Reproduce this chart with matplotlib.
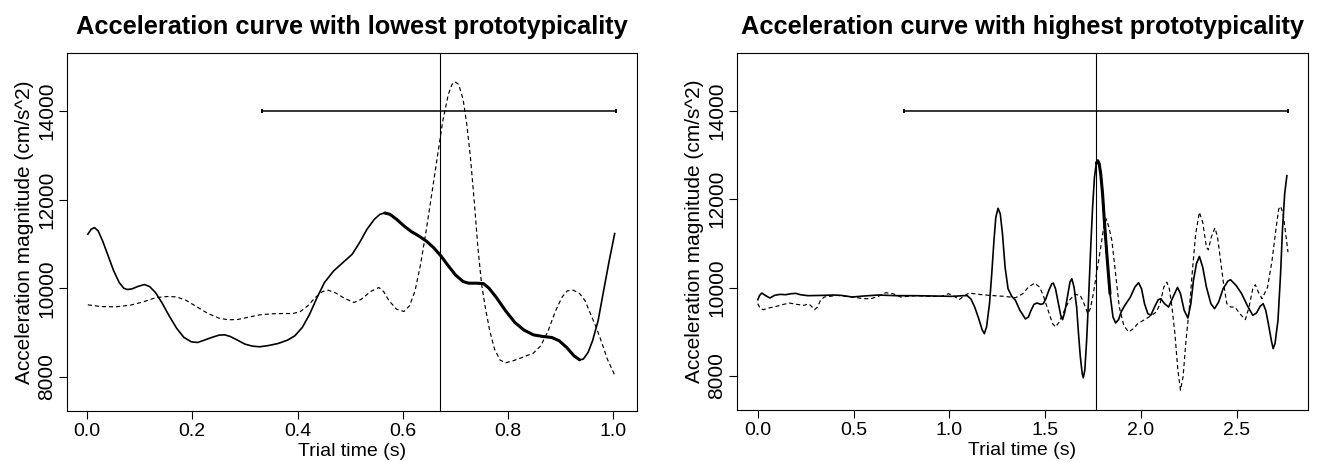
import numpy as np
import matplotlib
matplotlib.use("Agg")
import matplotlib.pyplot as plt

plt.rcParams['font.family'] = ['Liberation Sans', 'DejaVu Sans']

# lowest prototypicality trial: solid = this trial, dashed = reference curve
low_t = [0.0014, 0.0077, 0.0141, 0.0211, 0.0295, 0.0401, 0.0506, 0.0611, 0.0696, 0.0766,
         0.0857, 0.0963, 0.1089, 0.1188, 0.1300, 0.1420, 0.1560, 0.1701, 0.1841, 0.1982,
         0.2101, 0.2228, 0.2368, 0.2509, 0.2614, 0.2720, 0.2846, 0.3001, 0.3141, 0.3282,
         0.3457, 0.3633, 0.3809, 0.3949, 0.4090, 0.4230, 0.4371, 0.4512, 0.4687, 0.4863,
         0.5039, 0.5179, 0.5320, 0.5460, 0.5566, 0.5657, 0.5755, 0.5882, 0.6023, 0.6163,
         0.6304, 0.6444, 0.6585, 0.6725, 0.6866, 0.7006, 0.7147, 0.7252, 0.7393, 0.7533,
         0.7639, 0.7779, 0.7955, 0.8131, 0.8306, 0.8482, 0.8658, 0.8833, 0.8974, 0.9115,
         0.9255, 0.9361, 0.9431, 0.9522, 0.9607, 0.9712, 0.9817, 0.9923, 1.0028]
low_acc = [11218, 11331, 11368, 11293, 11068, 10729, 10391, 10128, 10000, 9970,
           9985, 10038, 10083, 10038, 9902, 9677, 9376, 9098, 8887, 8789,
           8774, 8827, 8887, 8940, 8947, 8910, 8835, 8737, 8692, 8677,
           8707, 8752, 8827, 8925, 9113, 9413, 9789, 10128, 10391, 10579,
           10767, 11030, 11331, 11556, 11669, 11699, 11669, 11556, 11406, 11278,
           11180, 11068, 10917, 10729, 10504, 10293, 10150, 10113, 10113, 10105,
           10000, 9789, 9489, 9225, 9053, 8947, 8910, 8887, 8812, 8662,
           8473, 8383, 8398, 8549, 8812, 9263, 9940, 10616, 11233]
low_ref_t = [0.0014, 0.0260, 0.0541, 0.0822, 0.1068, 0.1314, 0.1525, 0.1701, 0.1876, 0.2087,
             0.2298, 0.2509, 0.2684, 0.2860, 0.3071, 0.3282, 0.3493, 0.3703, 0.3914, 0.4055,
             0.4195, 0.4336, 0.4476, 0.4582, 0.4722, 0.4898, 0.5074, 0.5214, 0.5390, 0.5545,
             0.5636, 0.5741, 0.5882, 0.6023, 0.6128, 0.6233, 0.6339, 0.6444, 0.6550, 0.6655,
             0.6760, 0.6866, 0.6936, 0.6992, 0.7063, 0.7147, 0.7217, 0.7287, 0.7358, 0.7428,
             0.7498, 0.7569, 0.7653, 0.7744, 0.7850, 0.7955, 0.8096, 0.8271, 0.8482, 0.8623,
             0.8763, 0.8904, 0.9030, 0.9128, 0.9241, 0.9361, 0.9466, 0.9571, 0.9677, 0.9782,
             0.9888, 1.0028]
low_ref_acc = [9624, 9586, 9579, 9616, 9692, 9789, 9812, 9804, 9729, 9579,
               9428, 9323, 9286, 9293, 9346, 9398, 9421, 9428, 9428, 9474,
               9601, 9789, 9925, 9955, 9895, 9767, 9677, 9752, 9925, 10015,
               9925, 9714, 9526, 9474, 9601, 9940, 10541, 11293, 12120, 12947,
               13774, 14376, 14601, 14662, 14601, 14263, 13699, 12947, 11970, 10917,
               10090, 9564, 9038, 8624, 8376, 8316, 8361, 8436, 8534, 8699,
               9038, 9489, 9804, 9940, 9955, 9880, 9714, 9413, 9113, 8774,
               8398, 8037]
low_peak = 0.671
low_window = (0.333, 1.006)
low_bold = (0.565, 0.94)

# highest prototypicality trial
high_t = [0.0, 0.0097, 0.0213, 0.0387, 0.0639, 0.0871, 0.1161, 0.1451, 0.1741, 0.1993,
          0.2225, 0.2612, 0.3386, 0.3967, 0.4354, 0.4934, 0.5515, 0.6289, 0.7256, 0.8224,
          0.9191, 1.0159, 1.0739, 1.0933, 1.1126, 1.1320, 1.1513, 1.1707, 1.1823, 1.1939,
          1.2094, 1.2210, 1.2326, 1.2423, 1.2539, 1.2655, 1.2771, 1.2906, 1.3061, 1.3255,
          1.3448, 1.3680, 1.3971, 1.4125, 1.4261, 1.4415, 1.4570, 1.4764, 1.4899, 1.5035,
          1.5190, 1.5344, 1.5422, 1.5538, 1.5673, 1.5809, 1.5906, 1.6022, 1.6157, 1.6293,
          1.6390, 1.6505, 1.6641, 1.6738, 1.6834, 1.6931, 1.6989, 1.7067, 1.7163, 1.7260,
          1.7376, 1.7473, 1.7570, 1.7666, 1.7744, 1.7821, 1.7898, 1.7995, 1.8092, 1.8228,
          1.8382, 1.8537, 1.8673, 1.8827, 1.8963, 1.9156, 1.9447, 1.9679, 1.9872, 2.0027,
          2.0182, 2.0356, 2.0511, 2.0704, 2.0898, 2.1033, 2.1227, 2.1440, 2.1672, 2.1904,
          2.2059, 2.2252, 2.2446, 2.2601, 2.2736, 2.2891, 2.3046, 2.3220, 2.3413, 2.3646,
          2.3839, 2.4052, 2.4284, 2.4536, 2.4671, 2.4961, 2.5251, 2.5542, 2.5832, 2.6025,
          2.6219, 2.6374, 2.6509, 2.6645, 2.6799, 2.6896, 2.6993, 2.7148, 2.7283, 2.7380,
          2.7496, 2.7612]
high_acc = [9724, 9822, 9875, 9822, 9762, 9822, 9845, 9837, 9860, 9867,
            9837, 9815, 9822, 9830, 9822, 9785, 9807, 9830, 9815, 9815,
            9807, 9800, 9815, 9815, 9739, 9558, 9318, 9047, 8956, 9107,
            9634, 10311, 11064, 11590, 11794, 11666, 11214, 10461, 9973, 9800,
            9709, 9483, 9288, 9333, 9483, 9619, 9649, 9619, 9634, 9747,
            9935, 10085, 10100, 9973, 9672, 9370, 9272, 9446, 9785, 10123,
            10198, 10010, 9558, 8956, 8428, 8053, 7955, 8128, 8806, 9709,
            10914, 11817, 12494, 12811, 12871, 12796, 12570, 12118, 11478, 10688,
            9860, 9333, 9197, 9272, 9446, 9596, 9785, 10010, 10108, 9973,
            9634, 9408, 9370, 9558, 9724, 9747, 9634, 9558, 9785, 10003,
            9860, 9483, 9310, 9634, 10161, 10537, 10703, 10461, 10010, 9634,
            9521, 9672, 9973, 10146, 10176, 10048, 9860, 9596, 9370, 9423,
            9574, 9634, 9483, 9182, 8806, 8617, 8730, 9257, 10311, 11290,
            12118, 12532]
high_ref_t = [0.0, 0.0135, 0.0290, 0.0580, 0.0967, 0.1354, 0.1645, 0.2032, 0.2419, 0.2651,
              0.2806, 0.2960, 0.3115, 0.3289, 0.3483, 0.4160, 0.4934, 0.5515, 0.5902, 0.6289,
              0.6676, 0.7063, 0.7450, 0.8224, 0.8998, 0.9578, 0.9965, 1.0255, 1.0507, 1.0739,
              1.1029, 1.1513, 1.2094, 1.2867, 1.3448, 1.3835, 1.4125, 1.4454, 1.4706, 1.4899,
              1.5151, 1.5383, 1.5538, 1.5731, 1.5964, 1.6254, 1.6544, 1.6834, 1.7028, 1.7221,
              1.7357, 1.7512, 1.7705, 1.7898, 1.8053, 1.8189, 1.8324, 1.8479, 1.8673, 1.8866,
              1.9098, 1.9350, 1.9601, 1.9834, 2.0124, 2.0414, 2.0801, 2.0995, 2.1188, 2.1343,
              2.1478, 2.1614, 2.1769, 2.1924, 2.2059, 2.2195, 2.2349, 2.2543, 2.2698, 2.2853,
              2.3046, 2.3220, 2.3413, 2.3510, 2.3665, 2.3858, 2.3994, 2.4129, 2.4284, 2.4478,
              2.4671, 2.4903, 2.5155, 2.5445, 2.5639, 2.5832, 2.5967, 2.6122, 2.6316, 2.6606,
              2.6838, 2.7032, 2.7187, 2.7283, 2.7419, 2.7573, 2.7670]
high_ref_acc = [9634, 9521, 9498, 9536, 9574, 9619, 9649, 9619, 9596, 9634,
                9574, 9498, 9558, 9724, 9785, 9822, 9785, 9747, 9747, 9800,
                9882, 9860, 9785, 9815, 9800, 9800, 9860, 9800, 9724, 9800,
                9875, 9845, 9822, 9800, 9769, 9860, 10010, 10100, 10010, 9822,
                9483, 9182, 9107, 9220, 9446, 9709, 9845, 9822, 9634, 9408,
                9521, 9860, 10386, 10914, 11365, 11553, 11365, 11064, 10311, 9558,
                9144, 8994, 9069, 9182, 9257, 9333, 9446, 9634, 10010, 10123,
                9973, 9558, 8956, 8128, 7676, 7978, 8806, 9634, 10461, 11214,
                11704, 11478, 10914, 10853, 11139, 11350, 11139, 10688, 10161, 9634,
                9558, 9558, 9408, 9272, 9558, 9973, 10063, 9897, 9747, 10010,
                10612, 11290, 11779, 11839, 11666, 11139, 10800]
high_peak = 1.767
high_window = (0.764, 2.767)
high_bold = (1.76, 1.84)

panels = [
    ("Acceleration curve with lowest prototypicality", low_t, low_acc, low_ref_t, low_ref_acc,
     low_peak, low_window, low_bold, (-0.0388, 1.0445), [0.0, 0.2, 0.4, 0.6, 0.8, 1.0]),
    ("Acceleration curve with highest prototypicality", high_t, high_acc, high_ref_t, high_ref_acc,
     high_peak, high_window, high_bold, (-0.110, 2.870), [0.0, 0.5, 1.0, 1.5, 2.0, 2.5]),
]

fig = plt.figure(figsize=(13.2, 4.62), dpi=100)
rects = [[0.0505, 0.1104, 0.4318, 0.7742], [0.5581, 0.1126, 0.4326, 0.7721]]

for rect, (title, t, acc, rt, racc, peak, win, bold, xlim, xt) in zip(rects, panels):
    ax = fig.add_axes(rect)
    t = np.array(t)
    acc = np.array(acc)
    ax.plot(rt, racc, color='black', lw=0.85, ls=(0, (3.5, 2.5)))
    ax.plot(t, acc, color='black', lw=1.2, solid_joinstyle='round')
    m = (t >= bold[0]) & (t <= bold[1])
    ax.plot(t[m], acc[m], color='black', lw=2.2, solid_joinstyle='round', solid_capstyle='round')
    ax.axvline(peak, color='black', lw=0.8)
    ax.plot(win, [14000, 14000], color='black', lw=1.1)
    ax.plot(win, [14000, 14000], ls='none', marker='|', ms=3.5, mew=1.4, color='black')

    ax.set_xlim(*xlim)
    ax.set_ylim(7227, 15304)
    ax.set_xticks(xt)
    ax.set_xticklabels([f"{v:.1f}" for v in xt])
    ax.set_yticks([8000, 10000, 12000, 14000])
    ax.set_yticklabels(['8000', '10000', '12000', '14000'], rotation=90, va='center')
    ax.tick_params(direction='out', length=5.5, width=0.8, pad=2)
    ax.tick_params(axis='x', labelsize=14, pad=3)
    ax.tick_params(axis='y', labelsize=15)
    for s in ax.spines.values():
        s.set_linewidth(0.8)
    ax.set_xlabel("Trial time (s)", fontsize=14, labelpad=2)
    ax.set_ylabel("Acceleration magnitude (cm/s^2)", fontsize=15, labelpad=2)
    ax.set_title(title, fontsize=18.3, fontweight='bold', pad=14)

fig.savefig("out.png", dpi=100)
